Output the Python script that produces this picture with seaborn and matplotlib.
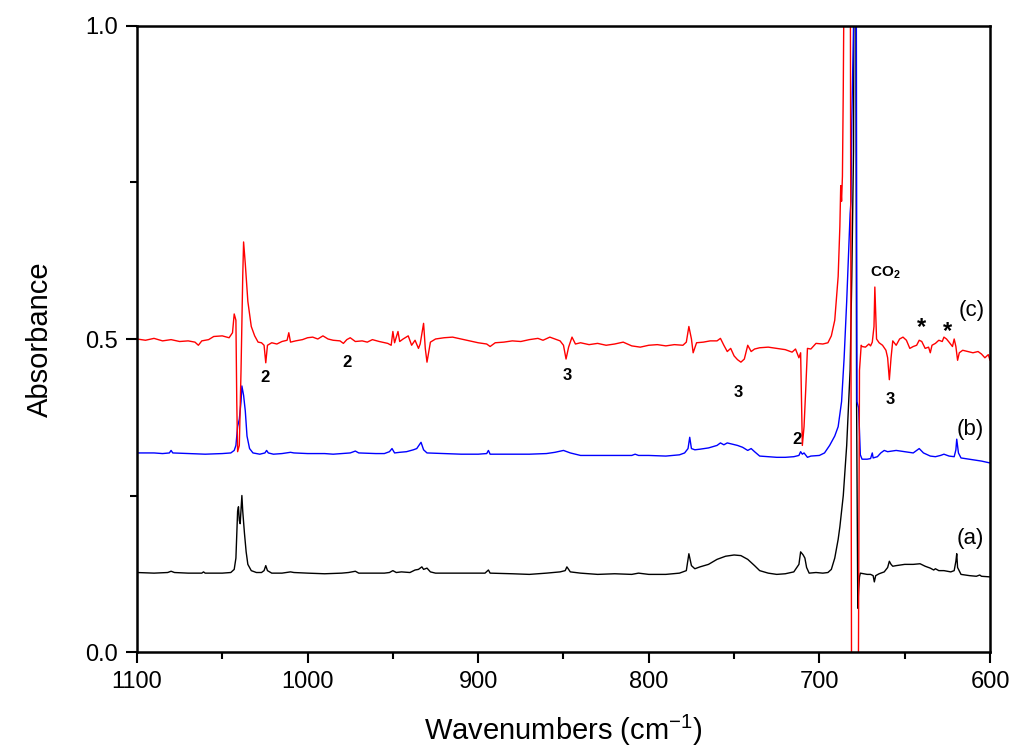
import matplotlib
matplotlib.use("Agg")
import matplotlib.pyplot as plt
import seaborn as sns
import pandas as pd
import numpy as np
from matplotlib.ticker import MultipleLocator

# ---------------- data ----------------
red_wn = [1100, 1095, 1090, 1085, 1080, 1075, 1070, 1066, 1064, 1062, 1058, 1055, 1050, 1046, 1044,
          1043, 1042, 1041.5, 1041, 1040, 1039, 1038, 1037.5, 1036.5, 1035, 1033, 1031, 1029, 1027,
          1025.5, 1024.5, 1023.5, 1021, 1018, 1015, 1012, 1011, 1010, 1007, 1003, 1000, 997, 994,
          991, 988, 985, 981, 979, 977, 975, 972, 968, 965, 962, 958, 953, 951, 950, 949, 947, 946,
          944, 941, 939, 937, 935, 934, 932, 931, 930, 928, 925, 920, 915, 910, 905, 900, 895, 893,
          890, 885, 880, 875, 870, 865, 862, 858, 855, 852, 850, 848.5, 847, 845, 843, 840, 835, 830,
          825, 820, 815, 810, 805, 800, 795, 790, 785, 780, 778, 776.5, 775, 774, 772, 768, 764, 760,
          758, 756, 754, 752, 750, 748, 746, 744, 742, 740, 738, 735, 730, 725, 720, 716, 714, 712,
          711, 710, 709, 708, 707, 705, 702, 698, 695, 693, 691, 689, 688, 687.5, 687, 686.5, 686,
          685, 682, 681, 677.5, 676.5, 675.5, 675, 673, 671, 670, 669, 668, 667.5, 667, 666.5, 665,
          663, 661, 660, 659, 658, 657, 655, 653, 651, 649, 647, 645, 643, 641.5, 640, 638, 636, 635,
          634, 632, 630, 628, 627, 625.5, 624, 622, 621, 620, 619, 618, 616, 613, 610, 607, 605, 603,
          601, 600]
red_abs = [0.500, 0.498, 0.501, 0.497, 0.499, 0.496, 0.497, 0.495, 0.490, 0.497, 0.499, 0.504, 0.505,
           0.502, 0.510, 0.540, 0.530, 0.400, 0.320, 0.330, 0.450, 0.600, 0.655, 0.620, 0.560, 0.520,
           0.505, 0.495, 0.494, 0.490, 0.462, 0.490, 0.494, 0.492, 0.496, 0.498, 0.510, 0.495, 0.497,
           0.499, 0.502, 0.503, 0.500, 0.505, 0.500, 0.498, 0.497, 0.493, 0.499, 0.502, 0.496, 0.497,
           0.495, 0.499, 0.496, 0.493, 0.490, 0.512, 0.494, 0.512, 0.496, 0.500, 0.505, 0.490, 0.498,
           0.485, 0.492, 0.525, 0.485, 0.463, 0.495, 0.500, 0.502, 0.503, 0.500, 0.497, 0.494, 0.492,
           0.488, 0.494, 0.495, 0.497, 0.496, 0.499, 0.501, 0.498, 0.503, 0.500, 0.497, 0.490, 0.468,
           0.487, 0.503, 0.492, 0.494, 0.491, 0.493, 0.490, 0.492, 0.495, 0.489, 0.487, 0.490, 0.491,
           0.489, 0.491, 0.490, 0.495, 0.520, 0.500, 0.478, 0.494, 0.495, 0.497, 0.497, 0.501, 0.490,
           0.480, 0.485, 0.473, 0.467, 0.463, 0.468, 0.490, 0.480, 0.484, 0.486, 0.487, 0.485, 0.483,
           0.479, 0.484, 0.470, 0.478, 0.330, 0.360, 0.420, 0.485, 0.484, 0.493, 0.492, 0.494, 0.505,
           0.530, 0.600, 0.680, 0.745, 0.720, 0.760, 0.900, 1.300, 1.300, -0.300, -0.300, 0.450,
           0.490, 0.488, 0.487, 0.492, 0.489, 0.495, 0.520, 0.583, 0.540, 0.500, 0.494, 0.490, 0.482,
           0.470, 0.435, 0.470, 0.497, 0.490, 0.500, 0.503, 0.498, 0.485, 0.488, 0.490, 0.498, 0.496,
           0.485, 0.487, 0.478, 0.490, 0.493, 0.498, 0.496, 0.503, 0.500, 0.495, 0.488, 0.500, 0.488,
           0.466, 0.478, 0.482, 0.480, 0.478, 0.480, 0.476, 0.470, 0.475, 0.466]

blue_wn = [1100, 1090, 1085, 1081, 1080, 1079, 1070, 1060, 1050, 1045, 1043, 1042, 1041, 1040, 1039,
           1038.5, 1037.5, 1036.5, 1035.5, 1034, 1032, 1028, 1025, 1024, 1023, 1020, 1015, 1010, 1008,
           1000, 990, 985, 980, 975, 972, 970, 960, 955, 952, 950.5, 949, 946, 942, 938, 936, 933.5,
           932, 930, 920, 910, 900, 895, 894, 893, 880, 870, 860, 855, 850, 848, 846, 840, 830, 820,
           810, 808, 806, 800, 790, 782, 779, 777, 776, 775, 773, 770, 765, 760, 758, 756, 754, 751,
           748, 745, 742, 740, 738, 735, 730, 725, 720, 715, 712, 711, 710, 709, 707, 705, 700, 697,
           694, 691, 689, 687, 685.5, 684, 683, 682, 681.5, 681, 680, 679.5, 678.5, 678, 677, 676.5,
           676, 675, 672, 670, 669, 668.5, 666, 664, 662, 660, 655, 650, 645, 641.5, 639, 635, 632,
           629, 627, 624, 621, 620, 619.5, 618.5, 617, 610, 605, 600]
blue_abs = [0.318, 0.318, 0.317, 0.318, 0.322, 0.318, 0.317, 0.316, 0.317, 0.318, 0.322, 0.330, 0.360,
            0.372, 0.400, 0.425, 0.410, 0.385, 0.345, 0.325, 0.318, 0.316, 0.318, 0.322, 0.318, 0.316,
            0.317, 0.319, 0.318, 0.317, 0.317, 0.316, 0.317, 0.318, 0.321, 0.318, 0.317, 0.317, 0.320,
            0.325, 0.318, 0.319, 0.320, 0.323, 0.325, 0.335, 0.323, 0.318, 0.317, 0.316, 0.316, 0.317,
            0.322, 0.316, 0.316, 0.316, 0.317, 0.319, 0.322, 0.320, 0.318, 0.314, 0.314, 0.314, 0.314,
            0.316, 0.314, 0.314, 0.313, 0.315, 0.318, 0.325, 0.343, 0.325, 0.323, 0.324, 0.326, 0.330,
            0.334, 0.331, 0.334, 0.332, 0.330, 0.327, 0.322, 0.325, 0.320, 0.313, 0.312, 0.311, 0.311,
            0.312, 0.314, 0.320, 0.316, 0.318, 0.311, 0.313, 0.314, 0.318, 0.330, 0.345, 0.360, 0.400,
            0.470, 0.560, 0.630, 0.700, 0.720, 0.850, 1.000, 1.300, 1.300, 0.400, 0.390, 0.350, 0.315,
            0.308, 0.308, 0.309, 0.318, 0.310, 0.312, 0.318, 0.322, 0.320, 0.322, 0.320, 0.318, 0.325,
            0.318, 0.313, 0.312, 0.314, 0.316, 0.313, 0.312, 0.323, 0.340, 0.318, 0.310, 0.307, 0.305,
            0.302]

black_wn = [1100, 1090, 1082, 1080, 1078, 1070, 1062, 1061, 1060, 1050, 1045, 1043, 1042, 1041, 1040.5,
            1040, 1039.5, 1039, 1038.5, 1038, 1037, 1036, 1035, 1033, 1030, 1027, 1025.5, 1024.5,
            1023.5, 1021, 1015, 1010, 1008, 1000, 990, 980, 976, 972, 970, 962, 955, 952, 950, 948,
            945, 940, 937, 935, 933, 932, 930, 928, 925, 915, 905, 896, 894, 893, 880, 870, 860, 852,
            849, 848, 846, 840, 830, 820, 810, 806, 800, 790, 782, 778, 776.5, 775, 773, 770, 765, 760,
            755, 750, 746, 742, 738, 735, 730, 725, 720, 715, 712, 711, 709.5, 708.5, 707.5, 706, 702,
            698, 695, 693, 691, 689, 688, 686, 684, 682, 681, 680, 679.5, 678.8, 678.2, 677.5, 677,
            676.5, 676, 672, 670, 668.5, 667.8, 667, 665, 662, 660, 659, 658, 657, 655, 650, 645, 641,
            638, 635, 633, 632, 630, 627, 625, 623, 621, 620, 619.5, 619, 617, 612, 608, 606, 605, 600]
black_abs = [0.127, 0.126, 0.127, 0.129, 0.127, 0.126, 0.126, 0.128, 0.126, 0.126, 0.127, 0.132, 0.150,
             0.225, 0.232, 0.210, 0.205, 0.228, 0.250, 0.225, 0.190, 0.160, 0.140, 0.130, 0.127, 0.127,
             0.130, 0.138, 0.130, 0.126, 0.126, 0.128, 0.127, 0.126, 0.125, 0.126, 0.127, 0.129, 0.126,
             0.126, 0.126, 0.127, 0.130, 0.127, 0.128, 0.127, 0.131, 0.132, 0.136, 0.132, 0.134, 0.128,
             0.126, 0.126, 0.126, 0.126, 0.131, 0.126, 0.125, 0.124, 0.126, 0.128, 0.130, 0.136, 0.128,
             0.126, 0.124, 0.125, 0.124, 0.126, 0.124, 0.124, 0.126, 0.130, 0.157, 0.138, 0.133, 0.136,
             0.140, 0.148, 0.153, 0.155, 0.154, 0.148, 0.138, 0.130, 0.126, 0.124, 0.125, 0.128, 0.140,
             0.160, 0.155, 0.150, 0.135, 0.126, 0.127, 0.126, 0.127, 0.132, 0.150, 0.180, 0.200, 0.250,
             0.330, 0.450, 0.600, 0.800, 1.300, 1.300, 0.400, 0.070, 0.100, 0.120, 0.126, 0.124, 0.124,
             0.122, 0.112, 0.122, 0.125, 0.128, 0.135, 0.145, 0.140, 0.137, 0.138, 0.140, 0.140, 0.141,
             0.137, 0.134, 0.131, 0.133, 0.130, 0.130, 0.129, 0.128, 0.130, 0.145, 0.157, 0.135, 0.124,
             0.122, 0.121, 0.123, 0.121, 0.120]

x_ticks = [1100, 1000, 900, 800, 700, 600]
y_ticks = [0.0, 0.5, 1.0]
y_tick_labels = ["0.0", "0.5", "1.0"]

# ---------------- style ----------------
sns.set_style("ticks")
plt.rcParams["font.family"] = ["Liberation Sans", "DejaVu Sans"]
plt.rcParams["mathtext.fontset"] = "custom"
plt.rcParams["mathtext.rm"] = "Liberation Sans"
plt.rcParams["mathtext.bf"] = "Liberation Sans:bold"
for k in ["text.color", "axes.labelcolor", "xtick.color", "ytick.color", "axes.edgecolor"]:
    plt.rcParams[k] = "black"

fig = plt.figure(figsize=(10.13, 7.51), dpi=100)
ax = fig.add_axes([0.1352, 0.1318, 0.8421, 0.8336])

for wn, ab, col in [(black_wn, black_abs, "#000000"),
                    (blue_wn, blue_abs, "#0000ff"),
                    (red_wn, red_abs, "#ff0000")]:
    df = pd.DataFrame({"wn": wn, "abs": ab})
    sns.lineplot(data=df, x="wn", y="abs", ax=ax, color=col, lw=1.0,
                 estimator=None, sort=False, legend=False)

ax.set_xlim(1100, 600)
ax.set_ylim(0.0, 1.0)
ax.set_xticks(x_ticks)
ax.set_xticklabels([str(t) for t in x_ticks])
ax.set_yticks(y_ticks)
ax.set_yticklabels(y_tick_labels)
ax.xaxis.set_minor_locator(MultipleLocator(50))
ax.yaxis.set_minor_locator(MultipleLocator(0.25))
ax.tick_params(axis="both", which="major", direction="out", length=8, width=1.5,
               labelsize=17, top=False, right=False, pad=6, colors="black")
ax.tick_params(axis="both", which="minor", direction="out", length=5, width=1.5,
               top=False, right=False, colors="black")
for sp in ax.spines.values():
    sp.set_visible(True)
    sp.set_linewidth(1.8)
    sp.set_color("black")

ax.set_xlabel(r"Wavenumbers (cm$^{-1}$)", fontsize=21, labelpad=14, color="black")
ax.set_ylabel("Absorbance", fontsize=21, labelpad=22, color="black")

# annotations
small = dict(fontsize=12, fontweight="bold", ha="center", va="center", color="black")
ax.text(1025, 0.438, "2", **small)
ax.text(977, 0.463, "2", **small)
ax.text(848, 0.441, "3", **small)
ax.text(747.7, 0.415, "3", **small)
ax.text(713, 0.339, "2", **small)
ax.text(658.6, 0.403, "3", **small)
ax.text(661.5, 0.605, r"$\mathbf{CO_2}$", fontsize=11, ha="center", va="center", color="black")
ax.text(640.4, 0.519, "*", fontsize=17, fontweight="bold", ha="center", va="center", color="black")
ax.text(625.2, 0.512, "*", fontsize=17, fontweight="bold", ha="center", va="center", color="black")
ax.text(611, 0.546, "(c)", fontsize=16, ha="center", va="center", color="black")
ax.text(611.7, 0.355, "(b)", fontsize=16, ha="center", va="center", color="black")
ax.text(611.7, 0.182, "(a)", fontsize=16, ha="center", va="center", color="black")

fig.savefig("out.png", dpi=100)
